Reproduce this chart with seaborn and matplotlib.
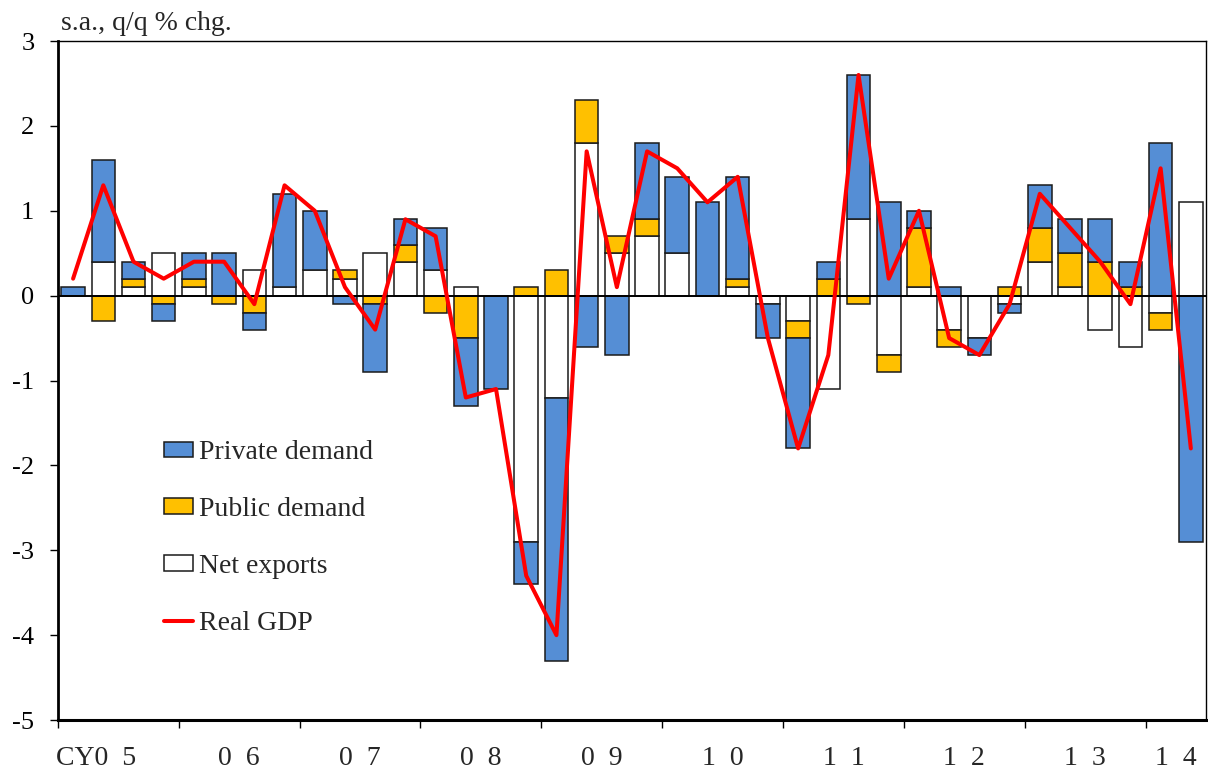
import numpy as np
import matplotlib
matplotlib.use("Agg")
import matplotlib.pyplot as plt
import matplotlib.transforms as mtransforms
from matplotlib.patches import Patch
from matplotlib.lines import Line2D
import seaborn as sns

# quarterly contributions, CY05 Q1 .. CY14 Q2
year_labels = ["CY0  5", "0  6", "0  7", "0  8", "0  9", "1  0", "1  1", "1  2", "1  3", "1  4"]
quarters_per_year = [4, 4, 4, 4, 4, 4, 4, 4, 4, 2]

private_demand = [0.1, 1.2, 0.2, -0.2, 0.3, 0.5, -0.2, 1.1,
                  0.7, -0.1, -0.8, 0.3, 0.5, -0.8, -1.1, -0.5,
                  -3.1, -0.6, -0.7, 0.9, 0.9, 1.1, 1.2, -0.4,
                  -1.3, 0.2, 1.7, 1.1, 0.2, 0.1, -0.2, -0.1,
                  0.5, 0.4, 0.5, 0.3, 1.8, -2.9]
public_demand = [0.0, -0.3, 0.1, -0.1, 0.1, -0.1, -0.2, 0.0,
                 0.0, 0.1, -0.1, 0.2, -0.2, -0.5, 0.0, 0.1,
                 0.3, 0.5, 0.2, 0.2, 0.0, 0.0, 0.1, 0.0,
                 -0.2, 0.2, -0.1, -0.2, 0.7, -0.2, 0.0, 0.1,
                 0.4, 0.4, 0.4, 0.1, -0.2, 0.0]
net_exports = [0.0, 0.4, 0.1, 0.5, 0.1, 0.0, 0.3, 0.1,
               0.3, 0.2, 0.5, 0.4, 0.3, 0.1, 0.0, -2.9,
               -1.2, 1.8, 0.5, 0.7, 0.5, 0.0, 0.1, -0.1,
               -0.3, -1.1, 0.9, -0.7, 0.1, -0.4, -0.5, -0.1,
               0.4, 0.1, -0.4, -0.6, -0.2, 1.1]
real_gdp = [0.2, 1.3, 0.4, 0.2, 0.4, 0.4, -0.1, 1.3,
            1.0, 0.1, -0.4, 0.9, 0.7, -1.2, -1.1, -3.3,
            -4.0, 1.7, 0.1, 1.7, 1.5, 1.1, 1.4, -0.5,
            -1.8, -0.7, 2.6, 0.2, 1.0, -0.5, -0.7, -0.1,
            1.2, 0.8, 0.4, -0.1, 1.5, -1.8]

colors = {"Private demand": "#558ED5", "Public demand": "#FFC000",
          "Net exports": "#FFFFFF", "Real GDP": "#FF0000"}

sns.set_theme(style="ticks")
plt.rcParams["font.family"] = ["Liberation Serif", "DejaVu Serif"]

fig = plt.figure(figsize=(12.08, 7.71), dpi=100)
ax = fig.add_axes([0.048, 0.0661, 0.9503, 0.8807])

# stacked bars: net exports nearest zero, then public, then private
n = len(real_gdp)
x = np.arange(n)
pos = np.zeros(n)
neg = np.zeros(n)
for name, vals in [("Net exports", net_exports), ("Public demand", public_demand),
                   ("Private demand", private_demand)]:
    v = np.array(vals)
    bottom = np.where(v >= 0, pos, neg)
    keep = v != 0
    ax.bar(x[keep], v[keep], bottom=bottom[keep], width=0.78, color=colors[name],
           edgecolor="#1a1a1a", linewidth=1.1, zorder=2)
    pos += np.clip(v, 0, None)
    neg += np.clip(v, None, 0)

ax.axhline(0, color="black", linewidth=1.4, zorder=3)
sns.lineplot(x=x, y=real_gdp, color=colors["Real GDP"], linewidth=2.9, ax=ax,
             legend=False, zorder=4)

ax.set_xlim(-0.5, n - 0.5)
ax.set_ylim(-5, 3)
ax.set_yticks(range(-5, 4))
ax.set_yticklabels([str(t) for t in range(-5, 4)], fontsize=19)
edges = np.cumsum([0] + quarters_per_year) - 0.5
ax.set_xticks(edges[:-1])
ax.set_xticklabels([])
ax.tick_params(axis="both", direction="out", length=6, width=1.0, colors="black")
ax.tick_params(axis="y", pad=11)
ax.set_xlabel("")
ax.set_ylabel("")

for side, lw in [("left", 2.0), ("bottom", 2.2), ("top", 1.0), ("right", 1.0)]:
    ax.spines[side].set_visible(True)
    ax.spines[side].set_linewidth(lw)
    ax.spines[side].set_color("black")

# year labels under each block of quarters
trans = mtransforms.blended_transform_factory(ax.transData, ax.transAxes)
centers = (edges[:-1] + edges[1:]) / 2
for i, (c, lab) in enumerate(zip(centers, year_labels)):
    t = trans
    if i == 0:
        t = mtransforms.offset_copy(trans, fig=fig, x=-16, y=0, units="points")
    ax.text(c, -0.057, lab, transform=t, ha="center", va="center", fontsize=20)

ax.text(0.003, 1.016, "s.a., q/q % chg.", transform=ax.transAxes,
        ha="left", va="baseline", fontsize=20)

handles = [Patch(facecolor=colors["Private demand"], edgecolor="#1a1a1a", linewidth=1.1),
           Patch(facecolor=colors["Public demand"], edgecolor="#1a1a1a", linewidth=1.1),
           Patch(facecolor=colors["Net exports"], edgecolor="#1a1a1a", linewidth=1.1),
           Line2D([0], [0], color=colors["Real GDP"], linewidth=2.9)]
labels = ["Private demand", "Public demand", "Net exports", "Real GDP"]
ax.legend(handles, labels, loc="upper left", bbox_to_anchor=(0.0926, 0.412),
          frameon=False, fontsize=20, handlelength=1.05, handleheight=0.5,
          handletextpad=0.2, labelspacing=1.15, borderpad=0, borderaxespad=0)

fig.savefig("out.png", dpi=100)
